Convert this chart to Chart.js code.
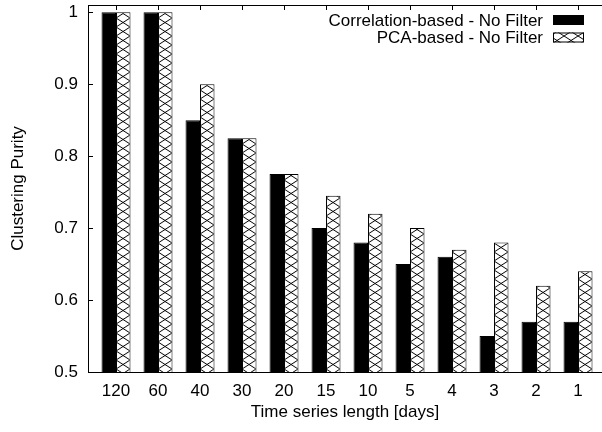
<!DOCTYPE html>
<html>
<head>
<meta charset="utf-8">
<script src="https://cdn.jsdelivr.net/npm/chart.js@4/dist/chart.umd.min.js"></script>
<style>
  html, body { margin: 0; padding: 0; background: #fff; overflow: hidden; }
  canvas { display: block; }
</style>
</head>
<body>
<canvas id="c" width="602" height="432"></canvas>
<script>
const categories = ['120', '60', '40', '30', '20', '15', '10', '5', '4', '3', '2', '1'];
const correlationValues = [1.0, 1.0, 0.85, 0.825, 0.775, 0.70, 0.68, 0.65, 0.66, 0.55, 0.57, 0.57];
const pcaValues = [1.0, 1.0, 0.90, 0.825, 0.775, 0.745, 0.72, 0.70, 0.67, 0.68, 0.62, 0.64];
const seriesNames = ['Correlation-based - No Filter', 'PCA-based - No Filter'];
const yTicks = [0.5, 0.6, 0.7, 0.8, 0.9, 1];

const FONT = '"Liberation Sans", Arial, Helvetica, sans-serif';
const FS = 17;

function makeHatch() {
  const w = 14, h = 9;
  const c = document.createElement('canvas');
  c.width = w; c.height = h;
  const g = c.getContext('2d');
  g.fillStyle = '#fff';
  g.fillRect(0, 0, w, h);
  g.strokeStyle = '#000';
  g.lineWidth = 1;
  g.beginPath();
  g.moveTo(0, 0); g.lineTo(w, h);
  g.moveTo(0, h); g.lineTo(w, 0);
  g.stroke();
  return document.getElementById('c').getContext('2d').createPattern(c, 'repeat');
}
const hatch = makeHatch();

const framePlugin = {
  id: 'frame',
  beforeDatasetsDraw(chart) {
    const {ctx, chartArea: a, scales} = chart;
    const x0 = scales.x.getPixelForValue(0);
    if (hatch.setTransform) hatch.setTransform(new DOMMatrix().translate(x0, 0));
    ctx.save();
    ctx.strokeStyle = '#000';
    ctx.lineWidth = 1;
    ctx.beginPath();
    ctx.moveTo(a.left, Math.round(a.top) + 0.5);
    ctx.lineTo(a.right, Math.round(a.top) + 0.5);
    categories.forEach((_, i) => {
      const x = Math.round(scales.x.getPixelForValue(i)) + 0.5;
      ctx.moveTo(x, a.top); ctx.lineTo(x, a.top + 5);
      ctx.moveTo(x, a.bottom); ctx.lineTo(x, a.bottom - 5);
    });
    yTicks.forEach(v => {
      const y = Math.round(scales.y.getPixelForValue(v)) + 0.5;
      ctx.moveTo(a.left, y); ctx.lineTo(a.left + 5, y);
    });
    ctx.stroke();
    ctx.restore();
  },
  afterDraw(chart) {
    const {ctx} = chart;
    const ds = chart.data.datasets;
    ctx.save();
    ctx.font = FS + 'px ' + FONT;
    ctx.textAlign = 'right';
    ctx.textBaseline = 'middle';
    const rows = [20, 37.5];
    ds.forEach((d, i) => {
      const y = rows[i];
      ctx.fillStyle = '#000';
      ctx.fillText(d.label, 543, y + 1);
      ctx.fillStyle = d.backgroundColor;
      ctx.fillRect(553, y - 5, 31, 10);
      ctx.strokeStyle = '#000';
      ctx.lineWidth = 1;
      ctx.strokeRect(553.5, y - 4.5, 30, 9);
    });
    ctx.restore();
  }
};

new Chart(document.getElementById('c'), {
  type: 'bar',
  data: {
    datasets: [
      {
        label: seriesNames[0],
        data: correlationValues.map((v, i) => ({x: i, y: v})),
        backgroundColor: '#000',
        borderColor: '#000',
        borderWidth: 1,
        categoryPercentage: 0.69,
        barPercentage: 1
      },
      {
        label: seriesNames[1],
        data: pcaValues.map((v, i) => ({x: i, y: v})),
        backgroundColor: hatch,
        borderColor: '#000',
        borderWidth: 1,
        categoryPercentage: 0.69,
        barPercentage: 1
      }
    ]
  },
  options: {
    responsive: false,
    animation: false,
    layout: { padding: { top: 5, right: 0, bottom: 0, left: 0 } },
    plugins: { legend: { display: false }, tooltip: { enabled: false } },
    scales: {
      x: {
        type: 'linear',
        min: -0.667,
        max: 11.571,
        offset: false,
        grid: { display: false, drawTicks: false },
        border: { display: true, color: '#000', width: 1 },
        afterBuildTicks(scale) { scale.ticks = categories.map((_, i) => ({value: i})); },
        afterFit(scale) { scale.height = 60; scale.paddingLeft = 0; scale.paddingRight = 0; },
        ticks: {
          autoSkip: false,
          maxRotation: 0,
          padding: 9,
          color: '#000',
          font: { family: FONT, size: FS },
          callback: (v) => categories[v] !== undefined ? categories[v] : ''
        },
        title: {
          display: true,
          text: 'Time series length [days]',
          color: '#000',
          font: { family: FONT, size: FS },
          padding: { top: 0, bottom: 9 }
        }
      },
      y: {
        min: 0.5,
        max: 1.01,
        grid: { display: false, drawTicks: false },
        border: { display: true, color: '#000', width: 1 },
        afterBuildTicks(scale) { scale.ticks = yTicks.map(v => ({value: v})); },
        afterFit(scale) { scale.width = 88; scale.paddingTop = 0; scale.paddingBottom = 0; },
        ticks: {
          padding: 10,
          color: '#000',
          font: { family: FONT, size: FS },
          callback: (v) => String(v)
        },
        title: {
          display: true,
          text: 'Clustering Purity',
          color: '#000',
          font: { family: FONT, size: FS },
          padding: { top: 8, bottom: 0 }
        }
      }
    }
  },
  plugins: [framePlugin]
});
</script>
</body>
</html>
